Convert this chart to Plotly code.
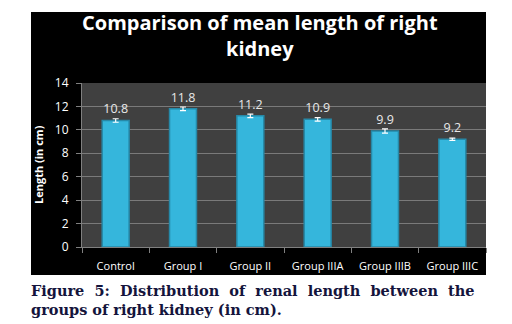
import plotly.graph_objects as go

categories = ["Control", "Group I", "Group II", "Group IIIA", "Group IIIB", "Group IIIC"]
values = [10.8, 11.8, 11.2, 10.9, 9.9, 9.2]
errors = [0.15, 0.15, 0.15, 0.15, 0.18, 0.1]
labels = ["10.8", "11.8", "11.2", "10.9", "9.9", "9.2"]
y_ticks = [0, 2, 4, 6, 8, 10, 12, 14]

W, H = 512, 324
L, R, T, B = 82, 486, 83, 247

def px(x):
    return (x - L) / (R - L)

def py(y):
    return (B - y) / (B - T)

fig = go.Figure()
fig.add_trace(go.Bar(
    x=categories, y=values,
    marker=dict(color="#35b6dc", line=dict(color="#2689a8", width=1.5)),
    error_y=dict(type="data", array=errors, color="#ffffff", thickness=1.2, width=3),
    text=labels, textposition="outside",
    textfont=dict(family="Open Sans", size=12.5, color="#e8e8e8"),
    cliponaxis=False, width=0.4,
))

fig.add_shape(type="rect", xref="paper", yref="paper", layer="below",
              x0=px(31), x1=px(486), y0=py(275), y1=py(12),
              fillcolor="#000000", line=dict(width=0))
fig.add_shape(type="rect", xref="paper", yref="paper", layer="below",
              x0=0, x1=1, y0=0, y1=1,
              fillcolor="#404040", line=dict(width=0))

fig.add_annotation(xref="paper", yref="paper", x=px(260), y=py(36), xanchor="center", yanchor="middle",
                   text="<b>Comparison of mean length of right<br>kidney</b>", showarrow=False,
                   font=dict(family="Open Sans", size=20, color="#ffffff"))

fig.add_annotation(xref="paper", yref="paper", x=px(29), y=py(300), xanchor="left", yanchor="middle",
                   align="left",
                   text="<b>Figure&nbsp; 5:&nbsp; Distribution&nbsp; of&nbsp; renal&nbsp; length&nbsp; between&nbsp; the<br>groups of right kidney (in cm).</b>",
                   showarrow=False,
                   font=dict(family="DejaVu Serif", size=14.5, color="#14143c"))

fig.add_annotation(xref="paper", yref="paper", x=px(38), y=py(165), xanchor="center", yanchor="middle",
                   text="<b>Length (in cm)</b>", textangle=-90, showarrow=False,
                   font=dict(family="Open Sans", size=11, color="#ffffff"))

fig.update_layout(
    width=W, height=H,
    margin=dict(l=L, r=W - R, t=T, b=H - B, pad=0, autoexpand=False),
    paper_bgcolor="#ffffff", plot_bgcolor="rgba(0,0,0,0)",
    showlegend=False, bargap=0.6,
    xaxis=dict(showgrid=False, ticks="outside", ticklen=5, tickcolor="#808080", automargin=False,
               tickson="boundaries", showline=True, linecolor="#808080", ticklabelstandoff=9,
               tickfont=dict(family="Open Sans", size=11, color="#ffffff")),
    yaxis=dict(range=[0, 14], tickvals=y_ticks, showgrid=True, gridcolor="#7a7a7a", gridwidth=1,
               ticks="outside", ticklen=5, tickcolor="#808080", showline=True, linecolor="#808080",
               zeroline=False, automargin=False, ticklabelstandoff=5,
               tickfont=dict(family="Open Sans", size=12, color="#ffffff")),
)

fig.write_html("out.html", config={"displayModeBar": False},
               post_script="document.body.style.margin='0';document.body.style.padding='0';")
